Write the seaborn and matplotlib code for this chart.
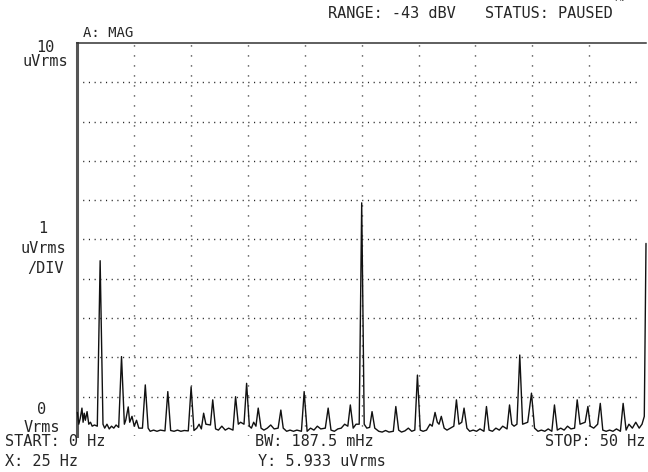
import matplotlib
matplotlib.use("Agg")
import matplotlib.pyplot as plt
import seaborn as sns
import pandas as pd

# Spectrum trace vertices: frequency (Hz) and magnitude (uVrms)
freq_hz = [
    0.0, 0.12, 0.25, 0.4, 0.5, 0.6, 0.7, 0.85, 1.0, 1.15, 1.3, 1.5, 1.75,
    2.0, 2.25, 2.4, 2.6, 2.8, 3.0, 3.2, 3.4, 3.63,
    3.88, 4.13, 4.25, 4.47, 4.6, 4.8, 5.0, 5.2, 5.4, 5.72,
    5.97, 6.22, 6.4, 6.7, 7.0, 7.3, 7.7,
    7.95, 8.2, 8.5, 8.8, 9.1, 9.4, 9.75,
    10.0, 10.25, 10.5, 10.7, 10.9,
    11.1, 11.3, 11.7, 11.9, 12.15, 12.4, 12.7, 13.0, 13.3, 13.68,
    13.91, 14.15, 14.35, 14.65, 14.88, 15.12, 15.3, 15.5, 15.7,
    15.9, 16.15, 16.4, 16.7, 17.0, 17.3, 17.65,
    17.89, 18.1, 18.4, 18.7, 19.0, 19.3, 19.7,
    19.94, 20.2, 20.5, 20.8, 21.1, 21.4, 21.8,
    22.05, 22.3, 22.6, 22.9, 23.2, 23.5, 23.78,
    24.0, 24.25, 24.5, 24.78,
    25.0, 25.22, 25.45, 25.7,
    25.91, 26.15, 26.5, 26.8, 27.1, 27.4, 27.78,
    28.0, 28.25, 28.5, 28.8, 29.1, 29.4, 29.67,
    29.9, 30.15, 30.4, 30.7, 31.0, 31.2,
    31.45, 31.65, 31.8, 32.0, 32.25, 32.5, 32.8, 33.1,
    33.33, 33.55, 33.8, 34.0, 34.25, 34.5, 34.8, 35.1, 35.4, 35.75,
    35.97, 36.2, 36.5, 36.8, 37.1, 37.4, 37.78,
    38.0, 38.2, 38.4, 38.65, 38.9, 39.15, 39.6,
    39.93, 40.2, 40.5, 40.8, 41.1, 41.4, 41.72,
    41.95, 42.2, 42.5, 42.8, 43.1, 43.4, 43.72,
    43.95, 44.2, 44.65, 44.89, 45.1, 45.4, 45.75,
    45.98, 46.2, 46.5, 46.8, 47.1, 47.4, 47.75,
    47.99, 48.25, 48.5, 48.8, 49.1, 49.4, 49.65, 49.85, 50.0,
]
level_uv = [
    0.6, 0.3, 0.45, 0.71, 0.35, 0.58, 0.4, 0.62, 0.3, 0.35, 0.25, 0.28, 0.25,
    4.46, 0.3, 0.2, 0.3, 0.18, 0.25, 0.2, 0.28, 0.22,
    2.02, 0.3, 0.4, 0.74, 0.35, 0.5, 0.25, 0.4, 0.2, 0.2,
    1.30, 0.2, 0.12, 0.15, 0.12, 0.15, 0.13,
    1.13, 0.14, 0.12, 0.15, 0.12, 0.14, 0.13,
    1.25, 0.14, 0.2, 0.3, 0.18,
    0.58, 0.3, 0.28, 0.92, 0.18, 0.15, 0.25, 0.15, 0.2, 0.15,
    1.0, 0.3, 0.35, 0.3, 1.34, 0.25, 0.2, 0.35, 0.25,
    0.71, 0.2, 0.15, 0.2, 0.28, 0.18, 0.2,
    0.66, 0.2, 0.12, 0.15, 0.12, 0.15, 0.12,
    1.13, 0.12, 0.2, 0.15, 0.25, 0.18, 0.2,
    0.71, 0.15, 0.12, 0.18, 0.2, 0.3, 0.25,
    0.79, 0.2, 0.3, 0.3,
    5.933, 0.3, 0.2, 0.22,
    0.62, 0.2, 0.12, 0.1, 0.14, 0.1, 0.12,
    0.75, 0.15, 0.1, 0.13, 0.2, 0.12, 0.15,
    1.55, 0.15, 0.12, 0.15, 0.3, 0.25,
    0.6, 0.35, 0.3, 0.5, 0.2, 0.15, 0.2, 0.25,
    0.92, 0.3, 0.35, 0.71, 0.2, 0.12, 0.15, 0.12, 0.18, 0.12,
    0.75, 0.15, 0.12, 0.2, 0.15, 0.25, 0.18,
    0.79, 0.3, 0.25, 0.3, 2.06, 0.3, 0.35,
    1.09, 0.2, 0.12, 0.15, 0.12, 0.18, 0.12,
    0.79, 0.15, 0.2, 0.15, 0.25, 0.18, 0.2,
    0.92, 0.3, 0.35, 0.75, 0.25, 0.2, 0.3,
    0.83, 0.15, 0.12, 0.15, 0.12, 0.18, 0.12,
    0.83, 0.15, 0.3, 0.2, 0.35, 0.2, 0.3, 0.5, 4.9,
]

x_grid_hz = [5, 10, 15, 20, 25, 30, 35, 40, 45]
y_grid_uv = [1, 2, 3, 4, 5, 6, 7, 8, 9]

W, H = 648, 472

sns.set_style("white")
plt.rcParams["font.family"] = ["DejaVu Sans Mono", "DejaVu Sans"]

fig = plt.figure(figsize=(W / 100, H / 100), dpi=100)
left, right, top, bottom = 77.4, 646.0, 43.0, 436.0
ax = fig.add_axes([left / W, 1 - bottom / H, (right - left) / W, (bottom - top) / H])
ax.set_xlim(0, 50)
ax.set_ylim(0, 10)

# dotted graticule
for f in x_grid_hz:
    ax.axvline(f, color="#222222", lw=1.0, ls=(0, (0.8, 6.4)), zorder=1)
for v in y_grid_uv:
    ax.axhline(v, color="#222222", lw=1.0, ls=(0, (0.8, 3.3)), xmax=0.99, zorder=1)

trace = pd.DataFrame({"freq": freq_hz, "mag": level_uv})
sns.lineplot(data=trace, x="freq", y="mag", ax=ax, color="#111111", lw=1.0,
             sort=False, estimator=None, zorder=3, clip_on=False)

ax.set_xticks([])
ax.set_yticks([])
ax.set_xlabel("")
ax.set_ylabel("")
for side in ("bottom", "right"):
    ax.spines[side].set_visible(False)
ax.spines["left"].set_linewidth(2.2)
ax.spines["left"].set_color("#555555")
ax.spines["top"].set_linewidth(1.1)
ax.spines["top"].set_color("#333333")


def put(x, y, s, ha="left", size=11, **kw):
    fig.text(x / W, 1 - y / H, s, ha=ha, va="center", fontsize=size,
             color="#262626", **kw)


put(328, 14, "RANGE: -43 dBV")
put(485, 14, "STATUS: PAUSED")
put(612, 5, "\u02d9\u02dc", size=8)
put(83, 33, "A: MAG", size=10)

put(45, 47, "10", ha="center")
put(45, 61, "uVrms", ha="center")
put(43, 229, "1", ha="center")
put(43, 248, "uVrms", ha="center")
put(45, 268, "/DIV", ha="center")
put(42, 410, "0", ha="center")
put(42, 427, "Vrms", ha="center")

put(5, 442, "START: 0 Hz")
put(255, 442, "BW: 187.5 mHz")
put(645, 442, "STOP: 50 Hz", ha="right")
put(5, 462, "X: 25 Hz")
put(258, 462, "Y: 5.933 uVrms")

fig.savefig("out.png", dpi=100)
